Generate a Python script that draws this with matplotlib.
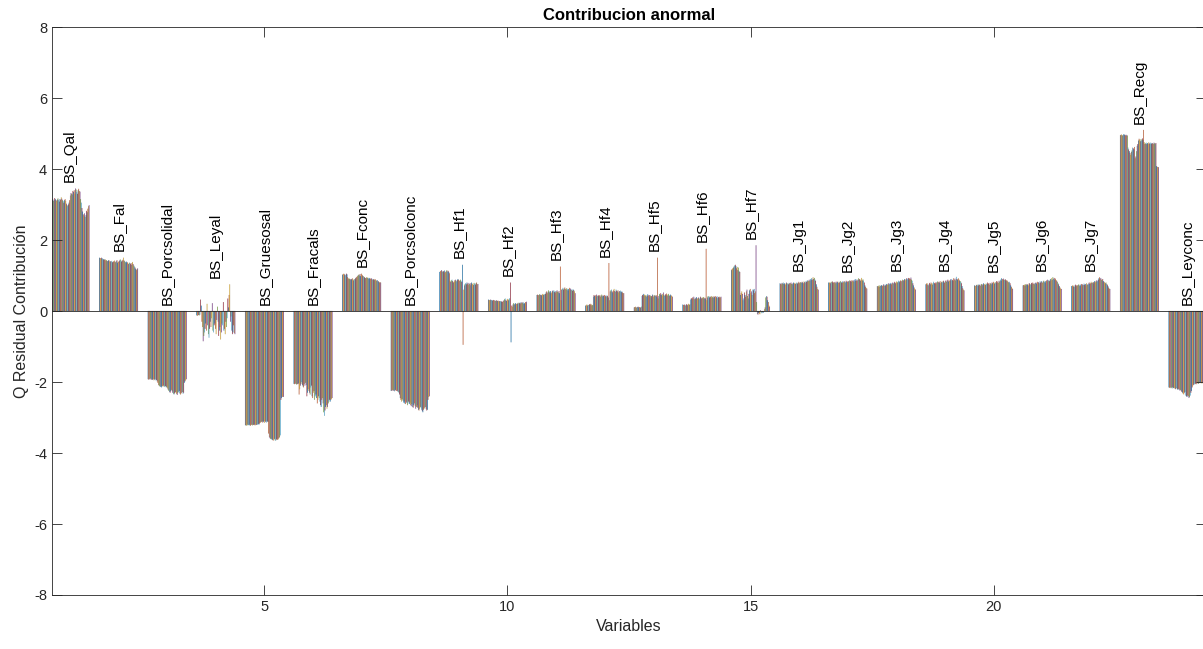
import numpy as np
import matplotlib.pyplot as plt

plt.rcParams['font.family'] = ['Liberation Sans', 'DejaVu Sans']
plt.rcParams['axes.unicode_minus'] = False

# nombres de las variables (una barra agrupada por variable)
variables = ['BS_Qal', 'BS_Fal', 'BS_Porcsolidal', 'BS_Leyal', 'BS_Gruesosal',
             'BS_Fracals', 'BS_Fconc', 'BS_Porcsolconc', 'BS_Hf1', 'BS_Hf2',
             'BS_Hf3', 'BS_Hf4', 'BS_Hf5', 'BS_Hf6', 'BS_Hf7', 'BS_Jg1',
             'BS_Jg2', 'BS_Jg3', 'BS_Jg4', 'BS_Jg5', 'BS_Jg6', 'BS_Jg7',
             'BS_Recg', 'BS_Leyconc']

# contribuciones Q de cada muestra (60 muestras) por variable
qal = [3.15, 3.12, 3.16, 3.14, 3.10, 3.13, 3.18, 3.15, 3.12, 3.10,
       3.14, 3.17, 3.12, 3.08, 3.15, 3.13, 3.20, 3.16, 3.12, 3.10,
       3.05, 3.12, 3.15, 3.10, 3.02, 2.98, 2.95, 3.00, 3.05, 3.12,
       3.25, 3.32, 3.30, 3.28, 3.38, 3.35, 3.40, 3.30, 3.45, 3.42,
       3.35, 3.30, 3.40, 3.44, 3.38, 3.36, 3.15, 3.05, 2.90, 2.80,
       2.72, 2.68, 2.75, 2.65, 2.70, 2.82, 2.78, 2.88, 2.95, 2.98]
fal = [1.50, 1.49, 1.48, 1.50, 1.47, 1.48, 1.45, 1.46, 1.44, 1.45,
       1.42, 1.43, 1.40, 1.41, 1.43, 1.42, 1.38, 1.40, 1.39, 1.41,
       1.37, 1.38, 1.40, 1.42, 1.39, 1.37, 1.40, 1.43, 1.36, 1.38,
       1.40, 1.42, 1.45, 1.43, 1.39, 1.41, 1.44, 1.50, 1.42, 1.40,
       1.38, 1.36, 1.39, 1.37, 1.34, 1.32, 1.36, 1.35, 1.33, 1.30,
       1.35, 1.38, 1.32, 1.28, 1.25, 1.22, 1.18, 1.15, 1.18, 1.20]
porcsolidal = [-1.92, -1.93, -1.91, -1.93, -1.90, -1.92, -1.94, -1.93, -1.92, -1.95,
               -1.93, -1.92, -1.95, -1.94, -1.98, -2.02, -2.08, -2.10, -2.12, -2.14,
               -2.12, -2.15, -2.11, -2.13, -2.10, -2.12, -2.14, -2.11, -2.15, -2.13,
               -2.18, -2.22, -2.25, -2.28, -2.30, -2.26, -2.22, -2.25, -2.30, -2.33,
               -2.35, -2.32, -2.28, -2.30, -2.34, -2.36, -2.30, -2.28, -2.25, -2.32,
               -2.35, -2.32, -2.30, -2.28, -2.33, -2.30, -2.02, -1.98, -1.95, -1.92]
leyal = [-0.12, -0.13, -0.12, -0.11, -0.12, -0.10, 0.32, 0.15, -0.30, -0.45,
         -0.85, -0.70, -0.60, -0.50, -0.35, -0.55, 0.20, -0.40, -0.65, -0.75,
         -0.50, -0.30, -0.45, -0.20, 0.22, -0.55, -0.60, -0.40, -0.35, -0.50,
         -0.65, -0.25, 0.12, -0.30, -0.70, -0.55, -0.45, -0.80, -0.60, -0.35,
         -0.40, 0.25, -0.55, -0.50, -0.65, -0.30, -0.45, -0.20, 0.35, 0.10,
         0.45, 0.75, -0.30, -0.15, -0.55, -0.65, -0.60, -0.40, -0.62, -0.65]
gruesosal = [-3.22, -3.21, -3.23, -3.20, -3.22, -3.21, -3.20, -3.22, -3.23, -3.21,
             -3.20, -3.22, -3.19, -3.21, -3.20, -3.22, -3.20, -3.21, -3.19, -3.20,
             -3.18, -3.20, -3.17, -3.15, -3.13, -3.12, -3.10, -3.14, -3.12, -3.10,
             -3.15, -3.12, -3.10, -3.14, -3.11, -3.12, -3.45, -3.55, -3.58, -3.60,
             -3.62, -3.60, -3.63, -3.65, -3.62, -3.60, -3.64, -3.65, -3.62, -3.60,
             -3.63, -3.61, -3.58, -3.55, -3.50, -2.50, -2.45, -2.42, -2.40, -2.42]
fracals = [-2.05, -2.06, -2.04, -2.05, -2.07, -2.05, -2.06, -2.04, -2.35, -2.20,
           -2.10, -2.05, -2.00, -2.08, -2.12, -2.15, -2.05, -2.10, -2.02, -2.08,
           -2.40, -2.30, -2.20, -2.25, -2.30, -2.35, -2.15, -2.10, -2.40, -2.45,
           -2.30, -2.25, -2.50, -2.40, -2.35, -2.45, -2.60, -2.50, -2.40, -2.45,
           -2.55, -2.65, -2.70, -2.50, -2.45, -2.60, -2.85, -2.95, -2.80, -2.70,
           -2.65, -2.75, -2.70, -2.60, -2.55, -2.50, -2.55, -2.50, -2.48, -2.45]
fconc = [1.02, 1.04, 1.05, 1.03, 1.00, 1.02, 1.05, 1.03, 0.95, 0.92,
         0.90, 0.91, 0.88, 0.90, 0.89, 0.92, 0.88, 0.86, 0.90, 0.88,
         0.92, 0.94, 0.96, 0.98, 1.00, 1.02, 1.00, 1.04, 0.98, 1.05,
         1.02, 1.00, 0.98, 0.96, 0.95, 0.93, 0.92, 0.95, 0.93, 0.94,
         0.92, 0.90, 0.93, 0.91, 0.90, 0.92, 0.88, 0.90, 0.89, 0.87,
         0.90, 0.88, 0.86, 0.85, 0.87, 0.84, 0.82, 0.80, 0.81, 0.80]
porcsolconc = [-2.25, -2.24, -2.22, -2.25, -2.23, -2.26, -2.24, -2.22, -2.25, -2.23,
               -2.26, -2.28, -2.30, -2.35, -2.45, -2.50, -2.55, -2.48, -2.52, -2.58,
               -2.55, -2.60, -2.62, -2.55, -2.58, -2.65, -2.60, -2.55, -2.62, -2.58,
               -2.65, -2.68, -2.62, -2.70, -2.72, -2.65, -2.60, -2.68, -2.75, -2.70,
               -2.65, -2.72, -2.78, -2.80, -2.75, -2.70, -2.72, -2.78, -2.82, -2.85,
               -2.78, -2.75, -2.72, -2.70, -2.76, -2.80, -2.78, -2.50, -2.42, -2.40]
hf1 = [1.10, 1.12, 1.13, 1.15, 1.11, 1.10, 1.12, 1.14, 1.08, 1.10,
       1.12, 1.15, 1.11, 1.13, 1.10, 1.06, 0.85, 0.82, 0.86, 0.88,
       0.84, 0.80, 0.82, 0.86, 0.88, 0.85, 0.83, 0.87, 0.90, 0.88,
       0.86, 0.84, 0.88, 0.85, 0.82, 1.30, -0.95, 0.60, 0.72, 0.76,
       0.78, 0.75, 0.80, 0.77, 0.74, 0.79, 0.76, 0.72, 0.78, 0.80,
       0.75, 0.77, 0.73, 0.79, 0.76, 0.74, 0.78, 0.80, 0.75, 0.76]
hf2 = [0.32, 0.31, 0.30, 0.32, 0.30, 0.31, 0.29, 0.30, 0.31, 0.29,
       0.30, 0.28, 0.29, 0.30, 0.28, 0.29, 0.27, 0.28, 0.26, 0.28,
       0.27, 0.25, 0.26, 0.28, 0.30, 0.33, 0.35, 0.30, 0.28, 0.32,
       0.34, 0.30, 0.33, 0.36, 0.80, -0.88, 0.15, 0.12, 0.18, 0.22,
       0.20, 0.18, 0.22, 0.20, 0.19, 0.21, 0.23, 0.20, 0.22, 0.24,
       0.21, 0.23, 0.25, 0.22, 0.24, 0.20, 0.22, 0.25, 0.23, 0.26]
hf3 = [0.45, 0.46, 0.44, 0.45, 0.47, 0.46, 0.45, 0.44, 0.46, 0.48,
       0.45, 0.47, 0.46, 0.48, 0.52, 0.55, 0.50, 0.54, 0.58, 0.55,
       0.52, 0.56, 0.50, 0.54, 0.57, 0.55, 0.58, 0.53, 0.56, 0.52,
       0.55, 0.58, 0.54, 0.52, 0.56, 0.50, 1.25, 0.30, 0.60, 0.62,
       0.65, 0.60, 0.63, 0.66, 0.62, 0.60, 0.64, 0.61, 0.58, 0.62,
       0.65, 0.60, 0.63, 0.59, 0.61, 0.57, 0.60, 0.58, 0.55, 0.50]
hf4 = [0.15, 0.16, 0.18, 0.15, 0.17, 0.16, 0.19, 0.17, 0.20, 0.18,
       0.15, 0.17, 0.40, 0.45, 0.42, 0.44, 0.40, 0.46, 0.43, 0.41,
       0.44, 0.42, 0.45, 0.40, 0.43, 0.46, 0.41, 0.44, 0.42, 0.45,
       0.40, 0.43, 0.41, 0.44, 0.42, 0.38, 1.35, 0.30, 0.55, 0.58,
       0.60, 0.55, 0.52, 0.58, 0.62, 0.56, 0.54, 0.60, 0.57, 0.55,
       0.58, 0.52, 0.56, 0.54, 0.57, 0.53, 0.55, 0.52, 0.50, 0.50]
hf5 = [0.10, 0.11, 0.12, 0.10, 0.09, 0.11, 0.12, 0.10, 0.11, 0.09,
       0.10, 0.12, 0.42, 0.45, 0.48, 0.44, 0.46, 0.42, 0.45, 0.40,
       0.43, 0.47, 0.44, 0.41, 0.45, 0.43, 0.38, 0.42, 0.46, 0.44,
       0.40, 0.43, 0.45, 0.42, 0.44, 0.40, 1.50, 0.35, 0.42, 0.48,
       0.45, 0.50, 0.46, 0.43, 0.48, 0.52, 0.45, 0.42, 0.47, 0.44,
       0.49, 0.46, 0.43, 0.48, 0.45, 0.42, 0.46, 0.44, 0.42, 0.40]
hf6 = [0.18, 0.17, 0.16, 0.18, 0.15, 0.17, 0.19, 0.16, 0.18, 0.20,
       0.17, 0.19, 0.32, 0.36, 0.34, 0.38, 0.35, 0.40, 0.33, 0.37,
       0.35, 0.39, 0.36, 0.34, 0.38, 0.36, 0.33, 0.40, 0.37, 0.35,
       0.38, 0.36, 0.39, 0.34, 0.37, 0.35, 1.75, 0.30, 0.38, 0.42,
       0.40, 0.38, 0.41, 0.39, 0.42, 0.38, 0.40, 0.37, 0.41, 0.39,
       0.42, 0.38, 0.40, 0.36, 0.41, 0.39, 0.37, 0.40, 0.38, 0.40]
hf7 = [1.15, 1.18, 1.20, 1.22, 1.25, 1.28, 1.30, 1.26, 1.20, 1.24,
       1.15, 1.22, 1.12, 1.10, 0.45, 0.50, 0.55, 0.48, 0.30, 0.35,
       0.52, 0.45, 0.40, 0.55, 0.60, 0.42, 0.35, 0.48, 0.58, 0.62,
       0.50, 0.55, 0.45, 0.60, 0.58, 0.62, 0.50, 0.55, 1.85, 0.25,
       -0.08, -0.10, -0.05, -0.07, -0.09, 0.02, -0.04, -0.06, -0.03, -0.05,
       -0.02, 0.05, 0.10, 0.38, 0.42, 0.40, 0.30, 0.25, 0.15, 0.12]
jg1 = [0.78, 0.76, 0.75, 0.79, 0.77, 0.80, 0.76, 0.78, 0.74, 0.77,
       0.80, 0.78, 0.76, 0.75, 0.79, 0.77, 0.78, 0.80, 0.76, 0.75,
       0.78, 0.80, 0.77, 0.79, 0.76, 0.78, 0.80, 0.77, 0.79, 0.82,
       0.78, 0.80, 0.81, 0.79, 0.82, 0.80, 0.78, 0.83, 0.81, 0.80,
       0.84, 0.82, 0.86, 0.83, 0.85, 0.88, 0.84, 0.90, 0.87, 0.92,
       0.88, 0.95, 0.90, 0.93, 0.88, 0.85, 0.75, 0.68, 0.62, 0.60]
jg2 = [0.80, 0.79, 0.81, 0.78, 0.82, 0.80, 0.83, 0.79, 0.81, 0.80,
       0.82, 0.78, 0.80, 0.83, 0.81, 0.79, 0.82, 0.80, 0.84, 0.81,
       0.80, 0.83, 0.79, 0.82, 0.84, 0.81, 0.80, 0.85, 0.82, 0.83,
       0.81, 0.84, 0.86, 0.82, 0.85, 0.83, 0.87, 0.84, 0.86, 0.82,
       0.88, 0.85, 0.90, 0.86, 0.84, 0.88, 0.92, 0.87, 0.90, 0.85,
       0.88, 0.93, 0.86, 0.89, 0.85, 0.80, 0.72, 0.68, 0.65, 0.63]
jg3 = [0.70, 0.69, 0.71, 0.68, 0.72, 0.70, 0.71, 0.73, 0.70, 0.72,
       0.75, 0.71, 0.74, 0.72, 0.76, 0.73, 0.75, 0.78, 0.74, 0.77,
       0.76, 0.79, 0.75, 0.78, 0.80, 0.77, 0.79, 0.82, 0.78, 0.80,
       0.83, 0.80, 0.82, 0.85, 0.81, 0.84, 0.86, 0.83, 0.85, 0.88,
       0.84, 0.87, 0.90, 0.86, 0.89, 0.92, 0.88, 0.91, 0.93, 0.89,
       0.92, 0.90, 0.94, 0.88, 0.85, 0.78, 0.72, 0.66, 0.62, 0.60]
jg4 = [0.75, 0.77, 0.78, 0.74, 0.72, 0.76, 0.79, 0.75, 0.80, 0.77,
       0.74, 0.78, 0.82, 0.79, 0.76, 0.80, 0.78, 0.81, 0.83, 0.79,
       0.82, 0.80, 0.84, 0.78, 0.81, 0.83, 0.80, 0.85, 0.82, 0.79,
       0.84, 0.86, 0.82, 0.85, 0.88, 0.83, 0.86, 0.84, 0.89, 0.86,
       0.90, 0.87, 0.85, 0.92, 0.88, 0.91, 0.86, 0.96, 0.90, 0.88,
       0.92, 0.89, 0.86, 0.84, 0.82, 0.78, 0.70, 0.64, 0.60, 0.58]
jg5 = [0.72, 0.71, 0.70, 0.73, 0.74, 0.71, 0.72, 0.75, 0.73, 0.70,
       0.74, 0.76, 0.72, 0.75, 0.78, 0.74, 0.76, 0.73, 0.77, 0.75,
       0.80, 0.76, 0.78, 0.74, 0.79, 0.77, 0.75, 0.80, 0.78, 0.82,
       0.79, 0.77, 0.81, 0.78, 0.84, 0.80, 0.83, 0.79, 0.85, 0.82,
       0.88, 0.85, 0.92, 0.90, 0.87, 0.91, 0.88, 0.86, 0.89, 0.85,
       0.87, 0.84, 0.82, 0.80, 0.82, 0.78, 0.72, 0.68, 0.64, 0.62]
jg6 = [0.72, 0.73, 0.74, 0.71, 0.75, 0.73, 0.76, 0.74, 0.72, 0.77,
       0.78, 0.75, 0.74, 0.79, 0.77, 0.80, 0.76, 0.78, 0.75, 0.79,
       0.80, 0.77, 0.82, 0.79, 0.81, 0.78, 0.83, 0.80, 0.84, 0.81,
       0.79, 0.83, 0.85, 0.82, 0.80, 0.84, 0.86, 0.83, 0.88, 0.85,
       0.87, 0.84, 0.90, 0.86, 0.92, 0.88, 0.95, 0.90, 0.93, 0.88,
       0.91, 0.87, 0.85, 0.82, 0.78, 0.75, 0.70, 0.66, 0.63, 0.62]
jg7 = [0.70, 0.71, 0.72, 0.69, 0.68, 0.72, 0.74, 0.70, 0.73, 0.71,
       0.73, 0.75, 0.72, 0.70, 0.74, 0.76, 0.72, 0.75, 0.73, 0.77,
       0.74, 0.76, 0.72, 0.78, 0.75, 0.73, 0.77, 0.80, 0.76, 0.78,
       0.82, 0.79, 0.80, 0.77, 0.81, 0.84, 0.80, 0.83, 0.86, 0.82,
       0.85, 0.88, 0.92, 0.95, 0.90, 0.93, 0.88, 0.86, 0.90, 0.84,
       0.82, 0.80, 0.78, 0.80, 0.76, 0.74, 0.70, 0.66, 0.63, 0.62]
recg = [4.95, 4.96, 4.97, 4.94, 4.95, 4.98, 4.96, 4.97, 4.95, 4.93,
        4.96, 4.94, 4.60, 4.55, 4.50, 4.45, 4.40, 4.48, 4.52, 4.60,
        4.58, 4.55, 4.62, 4.30, 4.35, 4.50, 4.65, 4.70, 4.80, 4.85,
        4.82, 4.78, 4.84, 4.80, 4.86, 4.82, 5.10, 4.75, 4.70, 4.72,
        4.74, 4.70, 4.73, 4.71, 4.75, 4.72, 4.70, 4.74, 4.71, 4.73,
        4.72, 4.70, 4.74, 4.72, 4.71, 4.73, 4.08, 4.06, 4.05, 4.05]
leyconc = [-2.15, -2.16, -2.17, -2.15, -2.16, -2.18, -2.15, -2.17, -2.16, -2.18,
           -2.20, -2.18, -2.17, -2.20, -2.22, -2.19, -2.21, -2.24, -2.22, -2.25,
           -2.28, -2.30, -2.33, -2.35, -2.30, -2.28, -2.38, -2.40, -2.42, -2.38,
           -2.40, -2.45, -2.42, -2.38, -2.30, -2.25, -2.15, -2.10, -2.08, -2.05,
           -2.07, -2.05, -2.03, -2.06, -2.02, -2.04, -2.05, -2.01, -2.03, -2.00,
           -2.02, -2.04, -2.01, -2.03, -2.00, -2.02, -2.05, -2.03, -2.00, -2.02]

contrib = [qal, fal, porcsolidal, leyal, gruesosal, fracals, fconc, porcsolconc,
           hf1, hf2, hf3, hf4, hf5, hf6, hf7, jg1, jg2, jg3, jg4, jg5, jg6, jg7,
           recg, leyconc]

# colores por defecto de MATLAB
colores = ['#0072BD', '#D95319', '#EDB120', '#7E2F8E', '#77AC30', '#4DBEEE', '#A2142F']
gris = '#262626'


def main():
    data = np.array(contrib)
    n_var, n_mues = data.shape
    x = np.arange(1, n_var + 1)

    fig = plt.figure(figsize=(12.03, 6.49), dpi=100)
    ax = fig.add_axes([52 / 1203, 1 - 595 / 649, 1154 / 1203, 568 / 649])

    ancho_grupo = 0.8
    ancho = ancho_grupo / n_mues
    for j in range(n_mues):
        pos = x - ancho_grupo / 2 + (j + 0.5) * ancho
        barras = ax.bar(pos, data[:, j], width=ancho * 0.85, color=colores[j % 7],
                        edgecolor=(0, 0, 0, 0.35), linewidth=0.15)
        for b in barras:
            b.set_snap(False)

    ax.axhline(0, color=gris, linewidth=0.6, zorder=3)

    # nombre de cada variable sobre su grupo
    for i, nombre in enumerate(variables):
        tope = max(data[i].max(), 0)
        ax.text(x[i], tope + 0.18, nombre, rotation=90, ha='center', va='bottom',
                fontsize=11, color='black')

    ax.set_xlim(0.63, 24.37)
    ax.set_ylim(-8, 8)
    ax.set_xticks([5, 10, 15, 20])
    ax.set_yticks(np.arange(-8, 9, 2))
    ax.tick_params(direction='in', length=7, width=0.6, top=True, right=True,
                   colors=gris, labelsize=10.5)
    for s in ax.spines.values():
        s.set_color(gris)
        s.set_linewidth(0.6)

    ax.set_title('Contribucion anormal', fontsize=12, fontweight='bold', pad=5)
    ax.set_xlabel('Variables', fontsize=11.5, color=gris)
    ax.set_ylabel('Q Residual Contribución', fontsize=11.5, color=gris)

    fig.savefig('out.png', dpi=100)


if __name__ == '__main__':
    main()
